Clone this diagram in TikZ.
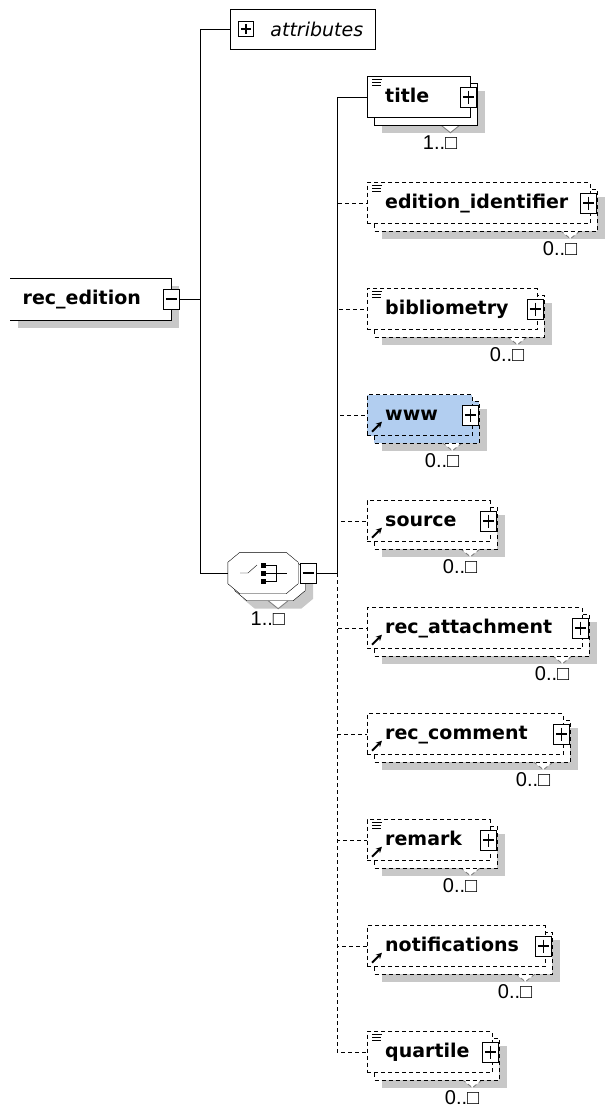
\documentclass[tikz,border=0pt]{standalone}
\usepackage{fontspec}
\setmainfont{DejaVu Sans}
\newfontfamily\numfont{Liberation Sans}
\usetikzlibrary{calc,arrows.meta,backgrounds}
\definecolor{shadegray}{RGB}{200,200,200}
\definecolor{refblue}{RGB}{178,206,240}
\tikzset{
	box/.style={draw, fill=white},
	opt/.style={dash pattern=on 4pt off 3pt},
	elem/.style={box, anchor=west, minimum height=41pt, inner xsep=18pt, inner ysep=0pt, align=left, text height=14pt, text depth=4pt, font=\bfseries\fontsize{19}{22}\selectfont},
	pmbox/.style={box, minimum width=16pt, minimum height=20pt, inner sep=0pt},
	maxlabel/.style={anchor=east, inner sep=0pt, font=\numfont\fontsize{20}{24}\selectfont},
}
\def\stacked[#1](#2)#3{%
	\begin{pgfonlayer}{background}
		\fill[shadegray] ($(#2.north west)+(15,15)$) rectangle ($(#2.south east)+(15,15)$);
		\draw[#1, fill=white, draw=black!50, line width=0.9pt] ($(#2.south east)+(-30,7)$) -- ++(10,8) -- ++(10,-8);
		\draw[#1] ($(#2.north west)+(7,7)$) rectangle ($(#2.south east)+(7,7)$);
	\end{pgfonlayer}
	\node[maxlabel] (#2-max) at ($(#2.east)+(-13,46)$) {#3};}
\def\plusbox(#1){%
	\node[pmbox] (#1-plus) at ($(#1.east)+(-2,0)$) {};
	\draw[line width=1.2pt] (#1-plus.center) +(-5.5,0) -- +(5.5,0) +(0,-6.5) -- +(0,6.5);}
\def\docmark(#1){\draw[line width=1.1pt] ($(#1.north west)+(5,3)$) -- ++(10,0) ($(#1.north west)+(5,6)$) -- ++(9,0) ($(#1.north west)+(5,9)$) -- ++(9,0);}
\def\refmark(#1){\draw[-{Stealth[length=6pt,width=6pt]}, line width=2pt] ($(#1.south west)+(5,-4)$) -- ++(10,-10);}
\def\octagon[#1](#2)(#3){\draw[#1] ($(#2.north west)+(12,0)+(#3)$) -- ($(#2.north east)+(-12,0)+(#3)$) -- ($(#2.north east)+(0,10)+(#3)$) -- ($(#2.south east)+(0,-10)+(#3)$) -- ($(#2.south east)+(-12,0)+(#3)$) -- ($(#2.south west)+(12,0)+(#3)$) -- ($(#2.south west)+(0,-10)+(#3)$) -- ($(#2.north west)+(0,10)+(#3)$) -- cycle;}

\begin{document}
\begin{tikzpicture}[x=1pt, y=-1pt, line width=1.4pt]
	%%%%% START %%%%%
	\useasboundingbox (0,0) rectangle (607,1108);
	
	% root element, open on the left
	\node[elem, draw=none, inner xsep=12pt, text width=136pt] (root) at (10,299) {rec\_edition};
	\begin{pgfonlayer}{background}
		\fill[shadegray] ($(root.north west)+(8,8)$) rectangle ($(root.south east)+(8,8)$);
	\end{pgfonlayer}
	\draw (root.north west) -- (root.north east) -- (root.south east) -- (root.south west);
	\node[pmbox] (root-minus) at (root.east) {};
	\draw[line width=1.2pt] (root-minus.center) +(-5.5,0) -- +(5.5,0);
	\coordinate (fork) at (200,299);
	
	% attributes
	\node[box, anchor=west, minimum width=145pt, minimum height=40pt, inner xsep=12pt, text width=121pt, align=right, font=\itshape\fontsize{19}{22}\selectfont] (attr) at (230,29) {attributes};
	\node[pmbox, minimum width=15pt, minimum height=15pt] (attr-plus) at ($(attr.west)+(16,0)$) {};
	\draw[line width=1.2pt] (attr-plus.center) +(-5,0) -- +(5,0) +(0,-5) -- +(0,5);
	
	% sequence
	\node[minimum width=70pt, minimum height=41pt, inner sep=0pt] (seq) at (263,573) {};
	\begin{pgfonlayer}{background}
		\octagon[fill=shadegray, draw=none](seq)(15,15)
		\draw[fill=white, draw=black!50, line width=0.9pt] ($(seq.south east)+(-30,7)$) -- ++(10,8) -- ++(10,-8);
		\octagon[box](seq)(7,7)
	\end{pgfonlayer}
	\octagon[box](seq)(0,0)
	\draw ($(seq.center)+(-23,0)$) -- ++(8,0) -- ++(9,-8);
	\fill ($(seq.center)+(-2,-10.5)$) rectangle ++(5,5);
	\fill ($(seq.center)+(-2,-2.5)$) rectangle ++(5,5);
	\fill ($(seq.center)+(-2,5.5)$) rectangle ++(5,5);
	\draw ($(seq.center)+(3,-8)$) -- ++(10,0) -- ++(0,16) -- ++(-10,0);
	\draw ($(seq.center)+(3,0)$) -- ++(21,0);
	\node[maxlabel] (seq-max) at ($(seq.east)+(-13,46)$) {1..□};
	\node[pmbox] (seq-minus) at (308,573) {};
	\draw[line width=1.2pt] (seq-minus.center) +(-5.5,0) -- +(5.5,0);
	\coordinate (hub) at (337,573);
	
	% children
	\node[elem, text width=67pt] (title) at (367,97) {title};
	\stacked[box](title){1..□}
	\plusbox(title)
	\docmark(title)
	
	\node[elem, opt, text width=187pt] (edid) at (367,203) {edition\_identifier};
	\stacked[box,opt](edid){0..□}
	\plusbox(edid)
	\docmark(edid)
	
	\node[elem, opt, text width=134pt] (biblio) at (367,309) {bibliometry};
	\stacked[box,opt](biblio){0..□}
	\plusbox(biblio)
	\docmark(biblio)
	
	\node[elem, opt, fill=refblue, text width=69pt] (www) at (367,415) {www};
	\stacked[box,opt,fill=refblue](www){0..□}
	\plusbox(www)
	\refmark(www)
	
	\node[elem, opt, text width=87pt] (source) at (367,521) {source};
	\stacked[box,opt](source){0..□}
	\plusbox(source)
	\refmark(source)
	
	\node[elem, opt, text width=179pt] (attach) at (367,628) {rec\_attachment};
	\stacked[box,opt](attach){0..□}
	\plusbox(attach)
	\refmark(attach)
	
	\node[elem, opt, text width=160pt] (comment) at (367,734) {rec\_comment};
	\stacked[box,opt](comment){0..□}
	\plusbox(comment)
	\refmark(comment)
	
	\node[elem, opt, text width=87pt] (remark) at (367,840) {remark};
	\stacked[box,opt](remark){0..□}
	\plusbox(remark)
	\docmark(remark)
	\refmark(remark)
	
	\node[elem, opt, text width=142pt] (notif) at (367,946) {notifications};
	\stacked[box,opt](notif){0..□}
	\plusbox(notif)
	\refmark(notif)
	
	\node[elem, opt, text width=89pt] (quartile) at (367,1052) {quartile};
	\stacked[box,opt](quartile){0..□}
	\plusbox(quartile)
	\docmark(quartile)
	
	% connectors
	\draw (root-minus) -- (fork);
	\draw (fork) |- (attr.west);
	\draw (fork) |- (seq.west);
	\draw (seq-minus) -- (hub);
	\draw (hub) |- (title.west);
	\draw[opt] (hub) |- (edid.west);
	\draw[opt] (hub) |- (biblio.west);
	\draw[opt] (hub) |- (www.west);
	\draw[opt] (hub) |- (source.west);
	\draw[opt] (hub) |- (attach.west);
	\draw[opt] (hub) |- (comment.west);
	\draw[opt] (hub) |- (remark.west);
	\draw[opt] (hub) |- (notif.west);
	\draw[opt] (hub) |- (quartile.west);
	
	%%%%% END %%%%%
\end{tikzpicture}
\end{document}
